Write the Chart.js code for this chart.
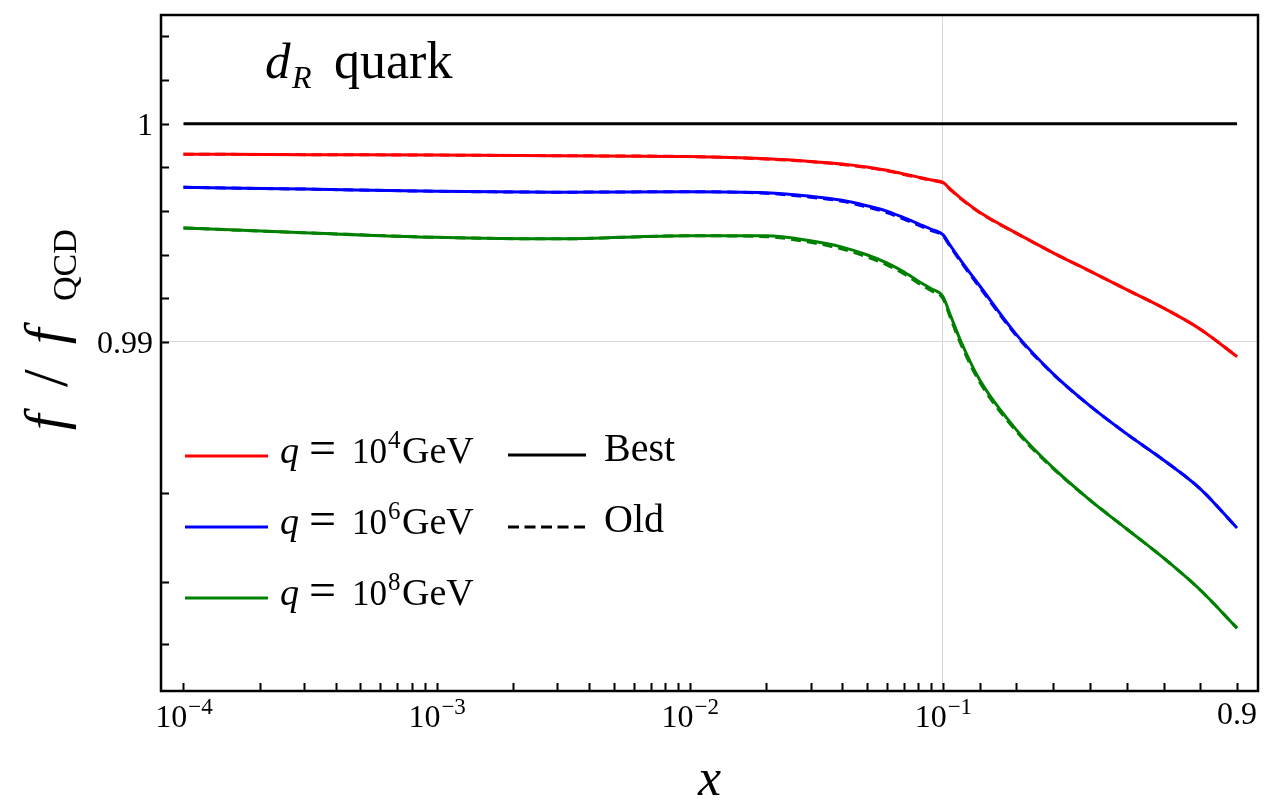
<!DOCTYPE html>
<html>
<head>
<meta charset="utf-8">
<script src="https://cdn.jsdelivr.net/npm/chart.js@4.4.1/dist/chart.umd.min.js"></script>
<style>
  body { margin: 0; background: #fff; }
  #wrap { width: 1287px; height: 806px; }
</style>
</head>
<body>
<div id="wrap"><canvas id="ratioChart" width="1287" height="806"></canvas></div>
<script>
// momentum fraction samples
const xValues = [1e-4, 3e-4, 1e-3, 3e-3, 0.01, 0.02, 0.03, 0.04, 0.05, 0.06, 0.07, 0.08, 0.09, 0.1,
                 0.12, 0.15, 0.2, 0.3, 0.4, 0.5, 0.6, 0.7, 0.8, 0.9];

// f / f_QCD, best fit
const redBest = [0.99860, 0.99858, 0.99856, 0.99853, 0.99849, 0.99839, 0.99827, 0.99815, 0.99801, 0.99786, 0.99769, 0.99755, 0.99742, 0.99731,
                 0.99700, 0.99656, 0.99594, 0.99498, 0.99408, 0.99324, 0.99239, 0.99155, 0.99058, 0.98930];
const blueBest = [0.99708, 0.99700, 0.99690, 0.99686, 0.99688, 0.99683, 0.99667, 0.99649, 0.99624, 0.99599, 0.99569, 0.99541, 0.99516, 0.99491,
                  0.99442, 0.99370, 0.99257, 0.99033, 0.98842, 0.98659, 0.98475, 0.98281, 0.98038, 0.97653];
const greenBest = [0.99522, 0.99500, 0.99479, 0.99472, 0.99486, 0.99486, 0.99463, 0.99434, 0.99399, 0.99362, 0.99321, 0.99278, 0.99243, 0.99208,
                   0.99124, 0.98998, 0.98810, 0.98503, 0.98218, 0.97935, 0.97642, 0.97307, 0.96881, 0.96286];

// f / f_QCD, old fit
const redOld = [0.99860, 0.99858, 0.99856, 0.99853, 0.99849, 0.99838, 0.99826, 0.99813, 0.99799, 0.99784, 0.99767, 0.99753, 0.99740, 0.99729,
                0.99698, 0.99654, 0.99592, 0.99497, 0.99408, 0.99324, 0.99239, 0.99155, 0.99058, 0.98930];
const blueOld = [0.99708, 0.99700, 0.99690, 0.99686, 0.99688, 0.99681, 0.99663, 0.99644, 0.99618, 0.99593, 0.99563, 0.99535, 0.99510, 0.99486,
                 0.99437, 0.99364, 0.99250, 0.99028, 0.98840, 0.98659, 0.98475, 0.98281, 0.98038, 0.97653];
const greenOld = [0.99522, 0.99500, 0.99479, 0.99472, 0.99486, 0.99482, 0.99456, 0.99425, 0.99390, 0.99353, 0.99312, 0.99269, 0.99234, 0.99199,
                  0.99112, 0.98985, 0.98798, 0.98493, 0.98212, 0.97935, 0.97642, 0.97307, 0.96881, 0.96286];

// QCD reference
const refX = [1e-4, 0.9];
const refY = [1, 1];

const seriesLabels = ['4', '6', '8'];   // q = 10^n GeV
const seriesColors = ['#ff0000', '#0000ff', '#008000'];

// axis ticks
const xMajor = [1e-4, 1e-3, 1e-2, 1e-1];
const xMinor = [2e-4, 3e-4, 4e-4, 5e-4, 6e-4, 7e-4, 8e-4, 9e-4,
                2e-3, 3e-3, 4e-3, 5e-3, 6e-3, 7e-3, 8e-3, 9e-3,
                0.02, 0.03, 0.04, 0.05, 0.06, 0.07, 0.08, 0.09,
                0.2, 0.3, 0.4, 0.5, 0.6, 0.7, 0.8, 0.9];
const xTickLabels = [['10', '\u22124'], ['10', '\u22123'], ['10', '\u22122'], ['10', '\u22121']];
const yTicks = [1.004, 1.002, 1, 0.998, 0.996, 0.994, 0.992, 0.99, 0.98, 0.97, 0.96];
const yTickLabels = { 1: '1', 0.99: '0.99' };

// log below 0.1, linear above; linear above 0.99, log(1-f) below
const warpX = x => x <= 0.1 ? Math.log10(x) : -1 + (x - 0.1) * 1.4526;
const unwarpX = u => u <= -1 ? Math.pow(10, u) : 0.1 + (u + 1) / 1.4526;
const warpY = f => f >= 0.99 ? f - 0.99 : -0.01 * Math.log((1 - f) / 0.01);
const unwarpY = v => v >= 0 ? v + 0.99 : 1 - 0.01 * Math.exp(-v / 0.01);
const warps = { x: [warpX, unwarpX], y: [warpY, unwarpY] };

class WarpScale extends Chart.LinearScale {
  getPixelForValue(value) {
    if (value === null || value === undefined || isNaN(value)) return NaN;
    const fwd = warps[this.axis][0];
    const lo = fwd(this.min), hi = fwd(this.max);
    return this.getPixelForDecimal((fwd(value) - lo) / (hi - lo));
  }
  getValueForPixel(pixel) {
    const [fwd, inv] = warps[this.axis];
    const lo = fwd(this.min), hi = fwd(this.max);
    return inv(lo + this.getDecimalForPixel(pixel) * (hi - lo));
  }
}
WarpScale.id = 'warp';
WarpScale.defaults = Chart.LinearScale.defaults;
Chart.register(WarpScale);

const SERIF = '"Liberation Serif", "DejaVu Serif", serif';

function points(xs, ys) {
  return xs.map((x, i) => ({ x: x, y: ys[i] }));
}

const best = [redBest, blueBest, greenBest];
const old = [redOld, blueOld, greenOld];

const datasets = [];
best.forEach((ys, i) => datasets.push({
  data: points(xValues, ys), borderColor: seriesColors[i], borderWidth: 3,
  pointRadius: 0, cubicInterpolationMode: 'monotone', fill: false
}));
datasets.push({
  data: points(refX, refY), borderColor: '#000', borderWidth: 3, pointRadius: 0, fill: false
});
old.forEach((ys, i) => datasets.push({
  data: points(xValues, ys), borderColor: seriesColors[i], borderWidth: 3, borderDash: [10, 6],
  pointRadius: 0, cubicInterpolationMode: 'monotone', fill: false
}));

// text pieces placed at fixed offsets: [text, font, x, dy]
function drawPieces(ctx, x0, y0, pieces) {
  pieces.forEach(p => {
    ctx.font = p[1];
    ctx.fillText(p[0], x0 + p[2], y0 + (p[3] || 0));
  });
}

const framePlugin = {
  id: 'frame',
  afterDraw(chart) {
    const ctx = chart.ctx;
    const a = chart.chartArea;
    const xs = chart.scales.x, ys = chart.scales.y;
    ctx.save();
    ctx.strokeStyle = '#000';
    ctx.fillStyle = '#000';

    // inward tick marks
    ctx.lineWidth = 2;
    ctx.beginPath();
    xMajor.concat(xMinor).forEach(v => {
      const px = Math.round(xs.getPixelForValue(v)) + 0.5;
      ctx.moveTo(px, a.bottom);
      ctx.lineTo(px, a.bottom - 8);
    });
    yTicks.forEach(v => {
      const py = Math.round(ys.getPixelForValue(v)) + 0.5;
      ctx.moveTo(a.left, py);
      ctx.lineTo(a.left + 8, py);
    });
    ctx.stroke();

    // frame
    ctx.lineWidth = 2.5;
    ctx.strokeRect(a.left, a.top, a.right - a.left, a.bottom - a.top);

    // x tick labels
    ctx.textBaseline = 'alphabetic';
    ctx.textAlign = 'left';
    const big = '32px ' + SERIF, small = '23px ' + SERIF;
    xMajor.forEach((v, i) => {
      const [base, sup] = xTickLabels[i];
      ctx.font = big;
      const w1 = ctx.measureText(base).width;
      ctx.font = small;
      const w2 = ctx.measureText(sup).width;
      const px = xs.getPixelForValue(v) - (w1 + w2) / 2;
      drawPieces(ctx, px, 727, [[base, big, 0], [sup, small, w1 + 1, -13]]);
    });
    ctx.font = big;
    ctx.textAlign = 'center';
    ctx.fillText('0.9', xs.getPixelForValue(0.9), 724);

    // y tick labels
    ctx.textAlign = 'right';
    Object.keys(yTickLabels).forEach(k => {
      ctx.fillText(yTickLabels[k], a.left - 8, ys.getPixelForValue(Number(k)) + 11);
    });

    // axis titles
    ctx.textAlign = 'center';
    ctx.font = 'italic 52px ' + SERIF;
    ctx.fillText('x', (a.left + a.right) / 2, 795);

    ctx.save();
    ctx.translate(64, 434);
    ctx.rotate(-Math.PI / 2);
    ctx.textAlign = 'left';
    drawPieces(ctx, 0, 0, [['f', 'italic 56px ' + SERIF, 4], ['/', '64px ' + SERIF, 47, 3],
      ['f', 'italic 56px ' + SERIF, 90], ['QCD', '34px ' + SERIF, 133, 12]]);
    ctx.restore();

    // panel title
    ctx.textAlign = 'left';
    drawPieces(ctx, 265, 78, [['d', 'italic 51px ' + SERIF, 0], ['R', 'italic 32px ' + SERIF, 27, 10],
      ['quark', '52px ' + SERIF, 334 - 265]]);

    // legend
    const legY = [456, 527, 598];
    const lf = '38px ' + SERIF;
    ctx.lineWidth = 3;
    seriesColors.forEach((c, i) => {
      ctx.strokeStyle = c;
      ctx.beginPath();
      ctx.moveTo(185, legY[i]);
      ctx.lineTo(268, legY[i]);
      ctx.stroke();
      drawPieces(ctx, 280, legY[i] + 7, [['q', 'italic 38px ' + SERIF, 0], ['=', '48px ' + SERIF, 29, 1],
        ['10', '35px ' + SERIF, 72], [seriesLabels[i], '25px ' + SERIF, 108, -15], ['GeV', lf, 122]]);
    });
    ctx.strokeStyle = '#000';
    ctx.beginPath();
    ctx.moveTo(508, 455);
    ctx.lineTo(586, 455);
    ctx.stroke();
    ctx.setLineDash([11, 5.5]);
    ctx.beginPath();
    ctx.moveTo(508, 527);
    ctx.lineTo(586, 527);
    ctx.stroke();
    ctx.setLineDash([]);
    ctx.font = '40px ' + SERIF;
    ctx.fillText('Best', 604, 461);
    ctx.fillText('Old', 604, 532);
    ctx.restore();
  }
};

new Chart(document.getElementById('ratioChart'), {
  type: 'line',
  data: { datasets: datasets },
  options: {
    responsive: false,
    devicePixelRatio: 1,
    animation: false,
    layout: { padding: { top: 15, right: 29, left: 0, bottom: 0 } },
    plugins: { legend: { display: false }, tooltip: { enabled: false } },
    scales: {
      x: {
        type: 'warp',
        min: 8.15e-5,
        max: 0.957,
        afterBuildTicks: s => { s.ticks = [{ value: 0.1 }]; },
        afterFit: s => { s.height = 115; },
        ticks: { display: false },
        border: { display: false },
        grid: { drawTicks: false, color: '#d8d8d8', lineWidth: 1 }
      },
      y: {
        type: 'warp',
        min: 0.95045,
        max: 1.00498,
        afterBuildTicks: s => { s.ticks = [{ value: 0.99 }]; },
        afterFit: s => { s.width = 161; },
        ticks: { display: false },
        border: { display: false },
        grid: { drawTicks: false, color: '#d8d8d8', lineWidth: 1 }
      }
    }
  },
  plugins: [framePlugin]
});
</script>
</body>
</html>
